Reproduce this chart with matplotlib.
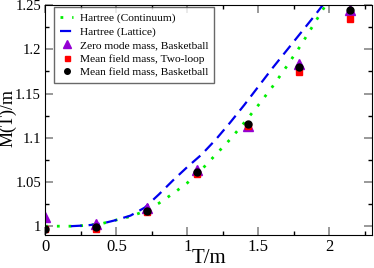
import numpy as np
import matplotlib
matplotlib.use('Agg')
import matplotlib.pyplot as plt
from matplotlib.ticker import MultipleLocator

plt.rcParams['font.family'] = ['Liberation Serif', 'DejaVu Serif']

# Hartree curves
t_cont = [0, 0.1, 0.2, 0.3, 0.4, 0.5, 0.6, 0.7, 0.8, 0.9, 1.0, 1.1, 1.2, 1.3,
          1.4, 1.5, 1.6, 1.7, 1.8, 1.9, 2.0]
m_cont = [1.0, 1.0, 1.0, 1.001, 1.003, 1.007, 1.011, 1.017, 1.026, 1.037, 1.049,
          1.064, 1.081, 1.098, 1.117, 1.137, 1.158, 1.181, 1.205, 1.231, 1.257]
t_latt = [0.18, 0.3, 0.4, 0.5, 0.6, 0.7, 0.8, 0.9, 1.0, 1.1, 1.2, 1.3, 1.4,
          1.5, 1.6, 1.7, 1.8, 1.9, 2.0]
m_latt = [1.0, 1.001, 1.003, 1.007, 1.012, 1.021, 1.036, 1.052, 1.067, 1.081,
          1.098, 1.117, 1.137, 1.158, 1.179, 1.199, 1.219, 1.239, 1.26]

# lattice data points
t_pts = [0, 0.357, 0.714, 1.071, 1.428, 1.785, 2.142]
m_zero_bb = [1.010, 1.002, 1.021, 1.064, 1.113, 1.183, 1.245]
m_mf_2loop = [0.997, 0.997, 1.016, 1.059, 1.113, 1.174, 1.234]
m_mf_bb = [0.997, 0.999, 1.017, 1.061, 1.115, 1.180, 1.244]

fig = plt.figure(figsize=(3.74, 2.68), dpi=100)
ax = fig.add_axes([0.121, 0.123, 0.874, 0.858])

ax.plot(t_cont, m_cont, color='#00ee00', lw=2, linestyle=(0, (1, 3.2)),
        label='Hartree (Continuum)')
ax.plot(t_latt, m_latt, color='#0000ee', lw=1.6, linestyle=(0, (5, 3)),
        label='Hartree (Lattice)')
ax.plot(t_pts, m_zero_bb, '^', color='#9400d3', ms=6.5, ls='none',
        label='Zero mode mass, Basketball')
ax.plot(t_pts, m_mf_2loop, 's', color='#ff0000', ms=4.5, ls='none',
        label='Mean field mass, Two-loop')
ax.plot(t_pts, m_mf_bb, 'o', color='black', ms=5, ls='none',
        label='Mean field mass, Basketball')

ax.set_xlim(0, 2.3)
ax.set_ylim(0.99, 1.25)
ax.xaxis.set_minor_locator(MultipleLocator(0.25))
ax.yaxis.set_minor_locator(MultipleLocator(0.025))
ax.set_xticks([0, 0.5, 1, 1.5, 2])
ax.set_xticklabels(['0', '0.5', '1', '1.5', '2'], fontsize=12)
ax.set_yticks([1, 1.05, 1.1, 1.15, 1.2, 1.25])
ax.set_yticklabels(['1', '1.05', '1.1', '1.15', '1.2', '1.25'], fontsize=10.5)
ax.tick_params(which='both', direction='in', top=True, right=True, pad=3)
ax.tick_params(which='major', length=6, width=1.2, color='#888888')
ax.tick_params(which='minor', length=3, width=1)

ax.set_xlabel('T/m', fontsize=15)
ax.set_ylabel('M(T)/m', fontsize=13)
ax.xaxis.set_label_coords(0.5, -0.062)
ax.yaxis.set_label_coords(-0.087, 0.51)

leg = ax.legend(loc='upper left', fontsize=8.2, frameon=True, fancybox=False,
                edgecolor='#444444', handlelength=1.2, handletextpad=0.6,
                bbox_to_anchor=(0.027, 0.99), borderaxespad=0,
                labelspacing=0.3, borderpad=0.5, markerscale=0.8)
leg.get_frame().set_linewidth(1)

fig.savefig('out.png', dpi=100)
